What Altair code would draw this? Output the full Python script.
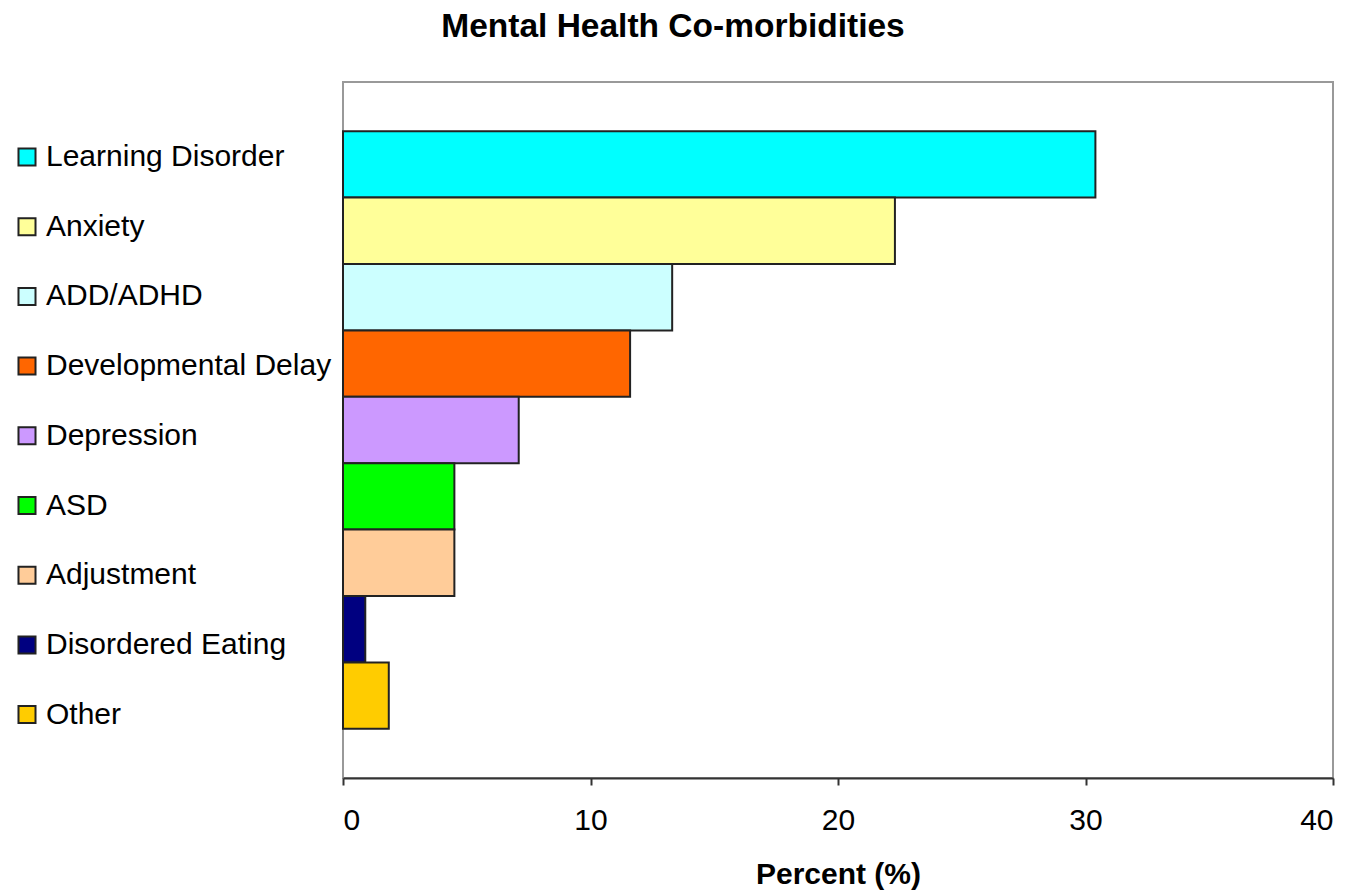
import altair as alt
import pandas as pd

categories = ["Learning Disorder", "Anxiety", "ADD/ADHD", "Developmental Delay",
              "Depression", "ASD", "Adjustment", "Disordered Eating", "Other"]
values = [30.4, 22.3, 13.3, 11.6, 7.1, 4.5, 4.5, 0.9, 1.85]
colors = ["#00FFFF", "#FFFF99", "#CCFFFF", "#FF6600", "#CC99FF",
          "#00FF00", "#FFCC99", "#000080", "#FFCC00"]
x_ticks = [0, 10, 20, 30, 40]

df = pd.DataFrame({"Condition": categories, "Percent": values})

FONT = "Liberation Sans"

chart = alt.Chart(df).mark_bar(stroke="#222222", strokeWidth=2).encode(
    y=alt.Y("Condition:N", sort=categories, axis=None,
            scale=alt.Scale(paddingInner=0, paddingOuter=0.74)),
    x=alt.X("Percent:Q",
            scale=alt.Scale(domain=[0, 40], nice=False),
            axis=alt.Axis(values=x_ticks, grid=False, title="Percent (%)",
                          domainColor="#333333", domainWidth=2,
                          tickColor="#333333", tickWidth=2, tickSize=7,
                          labelFont=FONT, labelFontSize=30, labelColor="#000000",
                          labelPadding=20,
                          titleFont=FONT, titleFontSize=30, titleFontWeight="bold",
                          titleColor="#000000", titlePadding=24)),
    color=alt.Color("Condition:N",
                    scale=alt.Scale(domain=categories, range=colors),
                    legend=alt.Legend(orient="none", legendX=-331, legendY=60,
                                      title=None, symbolType="square", symbolSize=290,
                                      symbolStrokeColor="#222222", symbolStrokeWidth=2,
                                      symbolOpacity=1,
                                      labelFont=FONT, labelFontSize=30,
                                      labelColor="#000000", labelOffset=4,
                                      labelLimit=400, rowPadding=39.7)),
).properties(
    width=990,
    height=696,
    title=alt.TitleParams("Mental Health Co-morbidities", font=FONT, fontSize=33.5,
                          fontWeight="bold", color="#000000", anchor="middle",
                          frame="bounds", baseline="alphabetic", offset=12),
    autosize=alt.AutoSizeParams(type="none"),
    padding={"left": 343, "top": 82, "right": 20, "bottom": 116},
).configure_view(stroke="#999999", strokeWidth=2)

chart.save("out.html", embed_options={"renderer": "svg", "actions": False})
